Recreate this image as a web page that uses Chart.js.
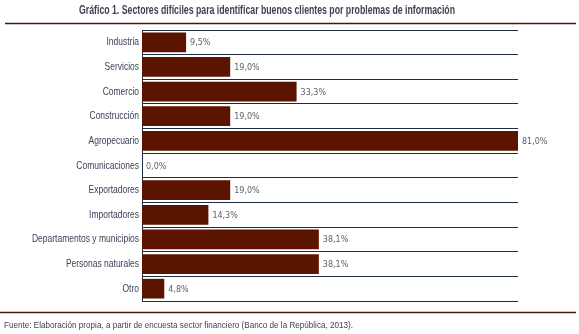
<!DOCTYPE html>
<html>
<head>
<meta charset="utf-8">
<script src="https://cdn.jsdelivr.net/npm/chart.js@4"></script>
<style>
  html, body { margin: 0; padding: 0; background: #fff; }
  #wrap { width: 579px; height: 334px; position: relative; }
</style>
</head>
<body>
<div id="wrap"><canvas id="sectorChart" width="579" height="334"></canvas></div>
<script>
const sectores = ['Industria', 'Servicios', 'Comercio', 'Construcción', 'Agropecuario', 'Comunicaciones',
    'Exportadores', 'Importadores', 'Departamentos y municipios', 'Personas naturales', 'Otro'];
const porcentajes = [9.5, 19.0, 33.3, 19.0, 81.0, 0.0, 19.0, 14.3, 38.1, 38.1, 4.8];
const titulo = 'Gráfico 1. Sectores difíciles para identificar buenos clientes por problemas de información';
const fuente = 'Fuente: Elaboración propia, a partir de encuesta sector financiero (Banco de la República, 2013).';

const sans = '"Liberation Sans", Arial, sans-serif';

// no hay fuente condensada instalada: se comprime el texto en horizontal
function textoEstrecho(ctx, txt, x, y, align, sx) {
    ctx.save();
    ctx.translate(x, y);
    ctx.scale(sx, 1);
    ctx.textAlign = align;
    ctx.fillText(txt, 0, 0);
    ctx.restore();
}

// titulo, reglas y fuente
const marco = {
    id: 'marco',
    afterDraw(chart) {
        const ctx = chart.ctx;
        ctx.save();
        ctx.textBaseline = 'middle';
        ctx.fillStyle = '#3d4352';
        ctx.font = 'bold 12px ' + sans;
        let sx = 376 / ctx.measureText(titulo).width;
        textoEstrecho(ctx, titulo, 267, 11, 'center', sx);

        ctx.strokeStyle = '#4a1508';
        ctx.lineWidth = 1.5;
        ctx.beginPath();
        ctx.moveTo(5, 23.5);
        ctx.lineTo(576, 23.5);
        ctx.moveTo(0, 312.5);
        ctx.lineTo(576, 312.5);
        ctx.stroke();

        ctx.fillStyle = '#3d4352';
        ctx.font = '9.5px ' + sans;
        sx = 349 / ctx.measureText(fuente).width;
        textoEstrecho(ctx, fuente, 4, 325, 'left', sx);
        ctx.restore();
    }
};

// etiquetas de categoria (comprimidas) y de valor al final de cada barra
const etiquetas = {
    id: 'etiquetas',
    afterDatasetsDraw(chart) {
        const ctx = chart.ctx;
        const yScale = chart.scales.y;
        const meta = chart.getDatasetMeta(0);
        ctx.save();
        ctx.textBaseline = 'middle';
        ctx.fillStyle = '#3a4256';
        ctx.font = '11px ' + sans;
        const sx = 107 / ctx.measureText('Departamentos y municipios').width;
        sectores.forEach((s, i) => {
            textoEstrecho(ctx, s, yScale.right - 3, yScale.getPixelForTick(i), 'right', sx);
        });

        ctx.fillStyle = '#5a5f68';
        ctx.font = '8px "DejaVu Sans", sans-serif';
        ctx.textAlign = 'left';
        meta.data.forEach((bar, i) => {
            const txt = porcentajes[i].toFixed(1).replace('.', ',') + '%';
            ctx.fillText(txt, bar.x + 4, bar.y + 1);
        });
        ctx.restore();
    }
};

const ctx = document.getElementById('sectorChart').getContext('2d');
new Chart(ctx, {
    type: 'bar',
    data: {
        labels: sectores,
        datasets: [{
            data: porcentajes,
            backgroundColor: '#5a1400',
            borderWidth: 0,
            barPercentage: 0.8,
            categoryPercentage: 1.0
        }]
    },
    options: {
        indexAxis: 'y',
        responsive: false,
        animation: false,
        layout: {
            padding: { left: 0, right: 61, top: 30, bottom: 33 }
        },
        plugins: {
            legend: { display: false },
            tooltip: { enabled: false }
        },
        scales: {
            x: {
                display: false,
                min: 0,
                max: 81
            },
            y: {
                afterFit: function(scale) {
                    scale.width = 142;
                },
                grid: {
                    offset: true,
                    color: '#1e2d44',
                    lineWidth: 1,
                    drawTicks: false
                },
                border: {
                    color: '#1e2d44',
                    width: 1
                },
                ticks: {
                    display: false
                }
            }
        }
    },
    plugins: [marco, etiquetas]
});
</script>
</body>
</html>
